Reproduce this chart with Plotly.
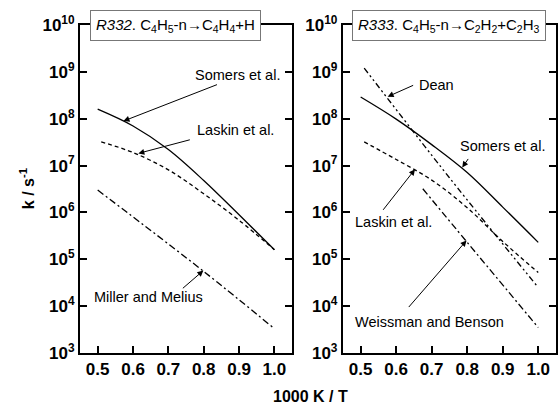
import plotly.graph_objects as go

# ---------------- data ----------------
x_left_somers = [0.50, 0.60, 0.70, 0.80, 0.90, 1.00]
k_left_somers = [1.6e8, 7.0e7, 2.2e7, 4.8e6, 8.9e5, 1.6e5]

x_left_laskin = [0.51, 0.60, 0.70, 0.80, 0.90, 1.00]
k_left_laskin = [3.2e7, 1.9e7, 8.1e6, 2.5e6, 6.8e5, 1.6e5]

x_left_miller = [0.50, 0.80, 1.00]
k_left_miller = [3.0e6, 5.5e4, 3.3e3]

x_right_somers = [0.50, 0.60, 0.70, 0.80, 0.90, 1.00]
k_right_somers = [2.9e8, 9.8e7, 2.8e7, 7.1e6, 1.3e6, 2.3e5]

x_right_laskin = [0.51, 0.60, 0.70, 0.80, 0.90, 1.00]
k_right_laskin = [3.2e7, 1.35e7, 4.9e6, 1.26e6, 2.4e5, 5.2e4]

x_right_dean = [0.51, 0.75, 1.00]
k_right_dean = [1.2e9, 5.5e6, 2.5e4]

x_right_weissman = [0.675, 0.80, 1.00]
k_right_weissman = [3.2e6, 2.3e5, 3.5e3]

y_tick_vals = [1e3, 1e4, 1e5, 1e6, 1e7, 1e8, 1e9, 1e10]
y_tick_text = ["<b>10<sup>3</sup></b>", "<b>10<sup>4</sup></b>", "<b>10<sup>5</sup></b>",
               "<b>10<sup>6</sup></b>", "<b>10<sup>7</sup></b>", "<b>10<sup>8</sup></b>",
               "<b>10<sup>9</sup></b>", "<b>10<sup>10</sup></b>"]
x_tick_vals = [0.5, 0.6, 0.7, 0.8, 0.9, 1.0]
x_tick_text = ["<b>0.5</b>", "<b>0.6</b>", "<b>0.7</b>", "<b>0.8</b>", "<b>0.9</b>", "<b>1.0</b>"]

FONT = "Arial, Liberation Sans, sans-serif"
DASH = "4px,3px"
DASHDOT = "7px,3px,2px,3px"
DASHDOTDOT = "6px,3px,2px,3px,2px,3px"

fig = go.Figure()

def add_line(x, y, dash, xa, ya):
    fig.add_trace(go.Scatter(x=x, y=y, mode="lines", xaxis=xa, yaxis=ya,
                             line=dict(color="black", width=1.3, dash=dash, shape="spline", smoothing=1.0),
                             showlegend=False, hoverinfo="skip"))

add_line(x_left_somers, k_left_somers, "solid", "x", "y")
add_line(x_left_laskin, k_left_laskin, DASH, "x", "y")
add_line(x_left_miller, k_left_miller, DASHDOT, "x", "y")
add_line(x_right_somers, k_right_somers, "solid", "x2", "y2")
add_line(x_right_laskin, k_right_laskin, DASH, "x2", "y2")
add_line(x_right_dean, k_right_dean, DASHDOTDOT, "x2", "y2")
add_line(x_right_weissman, k_right_weissman, DASHDOT, "x2", "y2")

xcommon = dict(range=[0.45, 1.05], tickvals=x_tick_vals, ticktext=x_tick_text,
               ticks="inside", ticklen=7, tickwidth=1.5, tickcolor="black",
               showline=True, linecolor="black", linewidth=2, mirror=True,
               showgrid=False, zeroline=False,
               tickfont=dict(family=FONT, size=17, color="black"))
ycommon = dict(type="log", range=[3, 10], tickvals=y_tick_vals, ticktext=y_tick_text,
               ticks="inside", ticklen=7, tickwidth=1.5, tickcolor="black",
               showline=True, linecolor="black", linewidth=2, mirror="ticks",
               showgrid=False, zeroline=False,
               tickfont=dict(family=FONT, size=17, color="black"))

fig.update_layout(
    width=560, height=405,
    margin=dict(l=80, r=2, t=25, b=52),
    paper_bgcolor="white", plot_bgcolor="white",
    font=dict(family=FONT, color="black"),
    xaxis=dict(domain=[0, 0.4456], anchor="y", **xcommon),
    yaxis=dict(domain=[0, 1], anchor="x", **ycommon),
    xaxis2=dict(domain=[0.5523, 1.0], anchor="y2", **xcommon),
    yaxis2=dict(domain=[0, 1], anchor="x2", **ycommon),
)

ann = []
# title boxes
ann.append(dict(xref="x domain", yref="y domain", x=0.448, y=1.0, xanchor="center", yanchor="middle",
                text="<i>R332</i>. C<sub>4</sub>H<sub>5</sub>-n\u2192C<sub>4</sub>H<sub>4</sub>+H",
                showarrow=False, bgcolor="white", bordercolor="#777777", borderwidth=1, borderpad=5,
                font=dict(family=FONT, size=15, color="black")))
ann.append(dict(xref="x2 domain", yref="y2 domain", x=0.498, y=1.0, xanchor="center", yanchor="middle",
                text="<i>R333</i>. C<sub>4</sub>H<sub>5</sub>-n\u2192C<sub>2</sub>H<sub>2</sub>+C<sub>2</sub>H<sub>3</sub>",
                showarrow=False, bgcolor="white", bordercolor="#777777", borderwidth=1, borderpad=5,
                font=dict(family=FONT, size=15, color="black")))

# labels (text)
labels = [
    ("x", "y", 0.769, 8.94, "Somers et al."),
    ("x", "y", 0.775, 7.76, "Laskin et al."),
    ("x", "y", 0.484, 4.19, "Miller and Melius"),
    ("x2", "y2", 0.658, 8.73, "Dean"),
    ("x2", "y2", 0.775, 7.42, "Somers et al."),
    ("x2", "y2", 0.479, 5.80, "Laskin et al."),
    ("x2", "y2", 0.479, 3.66, "Weissman and Benson"),
]
for xr, yr, xx, yy, t in labels:
    ann.append(dict(xref=xr, yref=yr, x=xx, y=yy, text=t, showarrow=False,
                    xanchor="left", yanchor="middle",
                    font=dict(family=FONT, size=14.5, color="black")))

# arrows (head at data point, tail offset in px)
arrows = [
    ("x", "y", 0.573, 7.95, 95, -37),
    ("x", "y", 0.615, 7.26, 53, -14),
    ("x", "y", 0.799, 4.76, -22, 19),
    ("x2", "y2", 0.576, 8.47, 27, -12),
    ("x2", "y2", 0.786, 6.96, 7, -10),
    ("x2", "y2", 0.653, 6.92, -33, 42),
    ("x2", "y2", 0.798, 5.40, -59, 68),
]
for xr, yr, xx, yy, dx, dy in arrows:
    ann.append(dict(xref=xr, yref=yr, x=xx, y=yy, ax=dx, ay=dy, text="",
                    showarrow=True, arrowhead=2, arrowsize=1.2, arrowwidth=1,
                    arrowcolor="black", standoff=0, startstandoff=0))

# axis titles
ann.append(dict(xref="paper", yref="paper", x=-0.111, y=0.5, text="<b>k / s<sup>-1</sup></b>",
                textangle=-90, showarrow=False, xanchor="center", yanchor="middle",
                font=dict(family=FONT, size=16, color="black")))
ann.append(dict(xref="paper", yref="paper", x=0.485, y=-0.134, text="<b>1000 K / T</b>",
                showarrow=False, xanchor="center", yanchor="middle",
                font=dict(family=FONT, size=16, color="black")))

fig.update_layout(annotations=ann)
fig.write_html("out.html")
